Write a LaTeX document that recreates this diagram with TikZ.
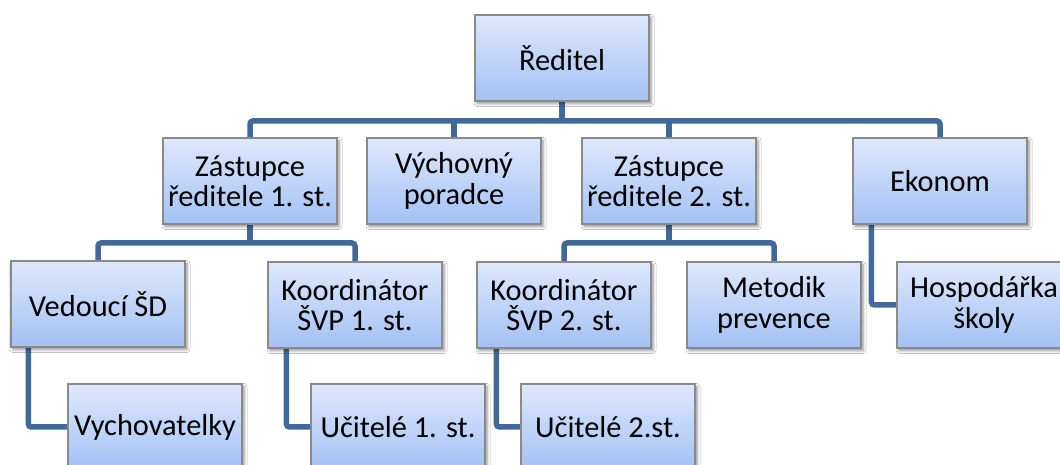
\documentclass[tikz,border=0pt]{standalone}
\usepackage{fontspec}
\setmainfont{Carlito}
\usetikzlibrary{shadows.blur,backgrounds}
\definecolor{connc}{HTML}{41699A}
\definecolor{boxtop}{HTML}{DEE8FC}
\definecolor{boxbot}{HTML}{A3C1F4}
\definecolor{boxline}{HTML}{8A8A8A}
\tikzset{
  orgbox/.style={draw=boxline, line width=1.2bp, top color=boxtop, bottom color=boxbot,
    minimum width=174bp, minimum height=86bp, inner sep=0pt, align=center,
    font=\fontsize{30.5}{30.5}\selectfont,
    blur shadow={shadow xshift=2bp, shadow yshift=-2.5bp, shadow blur radius=3bp, shadow opacity=45}},
  conn/.style={draw=connc, line width=5.5bp, rounded corners=3bp}
}
\begin{document}
\begin{tikzpicture}[x=1bp,y=-1bp]
\useasboundingbox (0,0) rectangle (1060,465);
\clip (0,0) rectangle (1060,465);
\node[orgbox] (dir) at (562,58) {Ředitel};
\node[orgbox] (z1) at (250,181) {Zástupce\\ředitele 1. st.};
\node[orgbox] (vp) at (454,181) {Výchovný\\poradce};
\node[orgbox] (z2) at (669,181) {Zástupce\\ředitele 2. st.};
\node[orgbox] (ek) at (940,181) {Ekonom};
\node[orgbox] (vsd) at (98,304) {Vedoucí ŠD};
\node[orgbox] (k1) at (355,305) {Koordinátor\\ŠVP 1. st.};
\node[orgbox] (k2) at (564,305) {Koordinátor\\ŠVP 2. st.};
\node[orgbox] (met) at (774,305) {Metodik\\prevence};
\node[orgbox] (hos) at (984,305) {Hospodářka\\školy};
\node[orgbox] (vych) at (155,427) {Vychovatelky};
\node[orgbox] (u1) at (398,427) {Učitelé 1. st.};
\node[orgbox] (u2) at (608,427) {Učitelé 2.st.};
\coordinate (b1) at (0,121);
\coordinate (b2) at (0,243);
\begin{pgfonlayer}{background}
\fill[white] (0,0) rectangle (1060,465);
\draw[conn] (z1.north) |- (ek.north |- b1) -- (ek.north);
\draw[conn] (dir.south) -- (dir.south |- b1);
\draw[conn] (vp.north) -- (vp.north |- b1);
\draw[conn] (z2.north) -- (z2.north |- b1);
\draw[conn] (vsd.north) |- (k1.north |- b2) -- (k1.north);
\draw[conn] (z1.south) -- (z1.south |- b2);
\draw[conn] (k2.north) |- (met.north |- b2) -- (met.north);
\draw[conn] (z2.south) -- (z2.south |- b2);
\draw[conn] ([xshift=18bp]vsd.south west) |- (vych.west);
\draw[conn] ([xshift=19bp]k1.south west) |- (u1.west);
\draw[conn] ([xshift=20bp]k2.south west) |- (u2.west);
\draw[conn] ([xshift=19bp]ek.south west) |- (hos.west);
\end{pgfonlayer}
\end{tikzpicture}
\end{document}
